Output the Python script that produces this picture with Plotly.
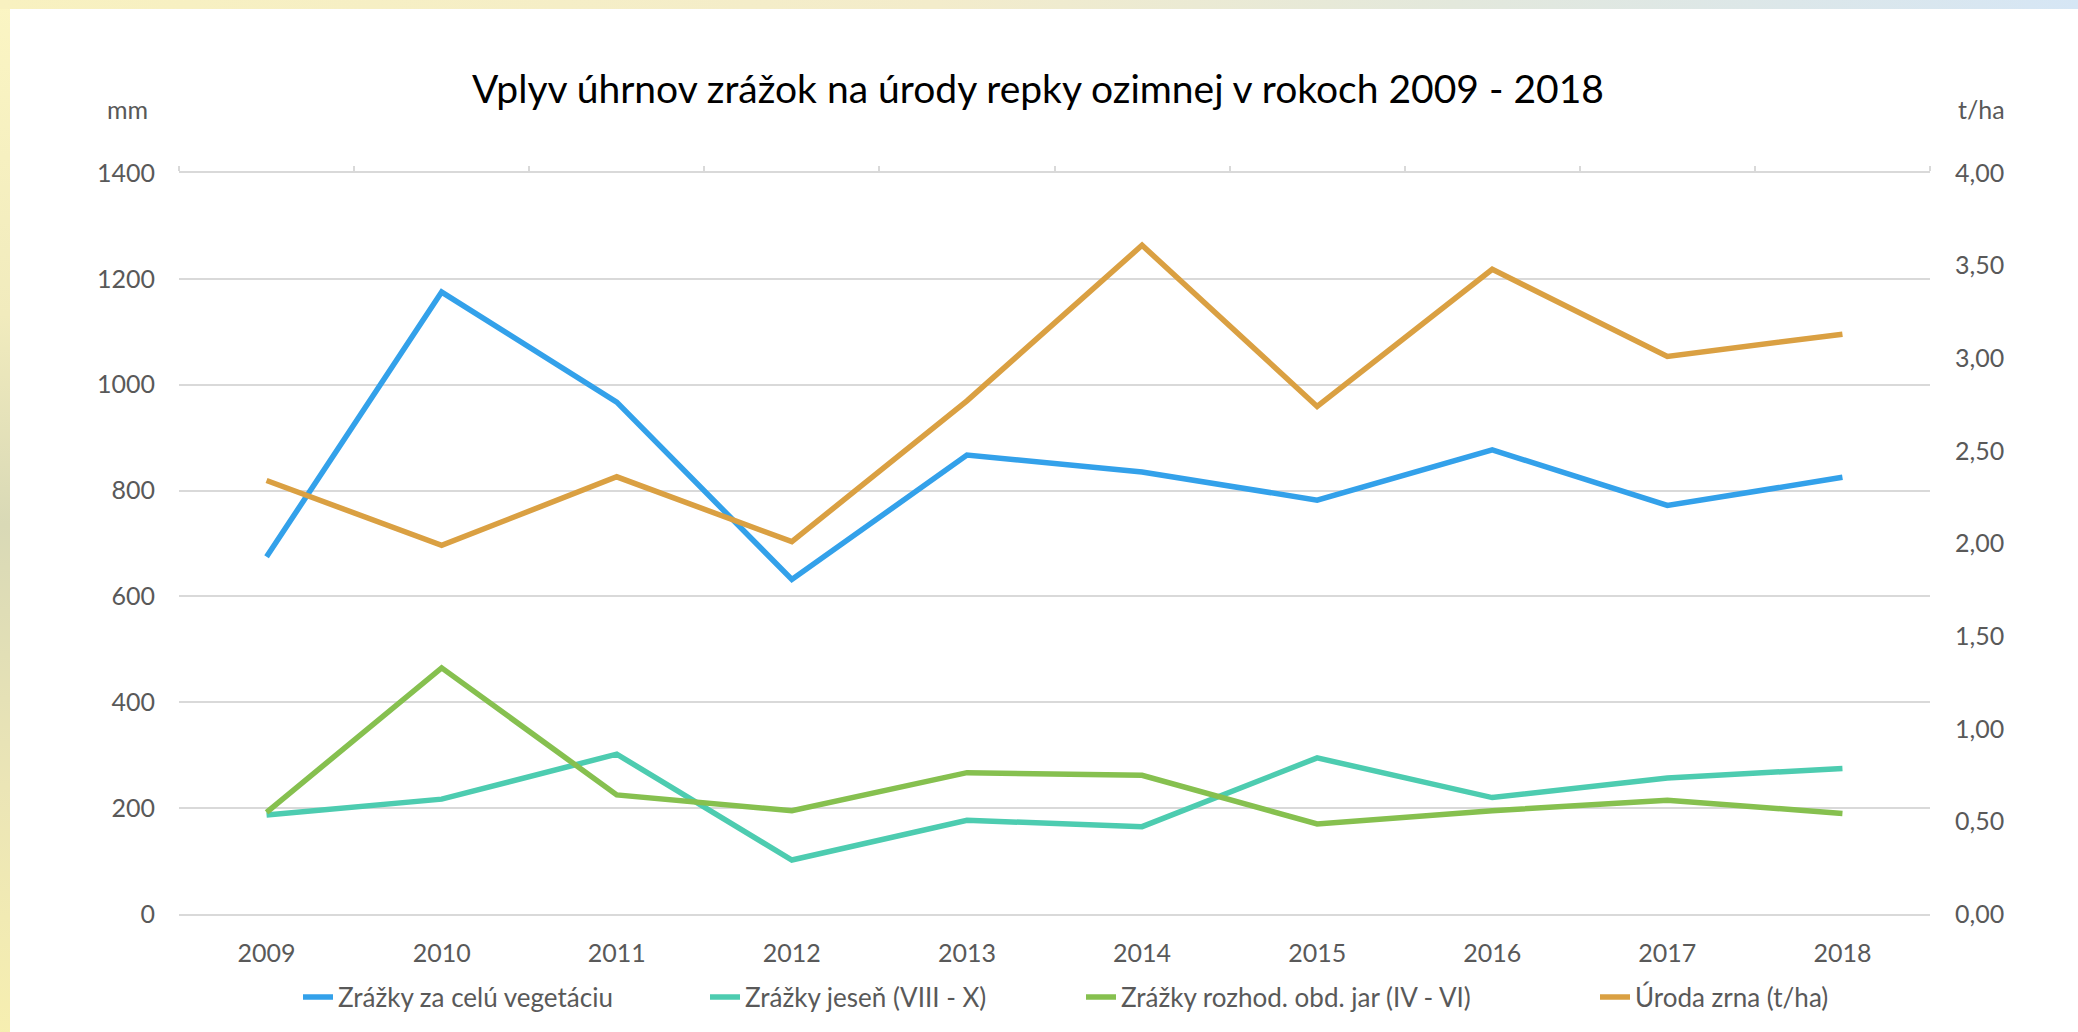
import plotly.graph_objects as go

years = ["2009", "2010", "2011", "2012", "2013", "2014", "2015", "2016", "2017", "2018"]
zrazky_celu = [675, 1175, 967, 632, 867, 835, 782, 877, 772, 825]
zrazky_jesen = [187, 217, 302, 102, 177, 165, 295, 220, 257, 275]
zrazky_jar = [192, 465, 225, 195, 267, 262, 170, 195, 215, 190]
uroda = [2.34, 1.99, 2.36, 2.01, 2.77, 3.61, 2.74, 3.48, 3.01, 3.13]

names = ["Zrážky za celú vegetáciu", "Zrážky jeseň (VIII - X)",
         "Zrážky rozhod. obd. jar (IV - VI)", "Úroda zrna (t/ha)"]
colors = ["#33a1ea", "#4dccb0", "#86c04f", "#daa042"]

W, H = 2078, 1032
OFF = 8  # default page margin of the html body
# plot area in page pixels
L, R, T, B = 179 - OFF, 1930 - OFF, 173 - OFF, 914 - OFF
pw, ph = R - L, B - T


def px(x):  # page pixel -> paper
    return (x - OFF - L) / pw


def py(y):
    return (B - (y - OFF)) / ph


FONT = "Lato"
GRAY = "#595959"
GRID = "#d9d9d9"

fig = go.Figure()
legends = ["legend", "legend2", "legend3", "legend4"]
for vals, name, col, lg in zip([zrazky_celu, zrazky_jesen, zrazky_jar], names[:3], colors[:3], legends):
    fig.add_trace(go.Scatter(x=years, y=vals, name=name, mode="lines",
                             line=dict(color=col, width=5.5), legend=lg))
fig.add_trace(go.Scatter(x=years, y=uroda, name=names[3], mode="lines",
                         line=dict(color=colors[3], width=5.5), yaxis="y2",
                         legend="legend4"))
# carrier for the top category-boundary axis
fig.add_trace(go.Scatter(x=[], y=[], xaxis="x2", yaxis="y", showlegend=False,
                         hoverinfo="skip"))

legend_text_starts = [338, 745, 1121]
leg_common = dict(orientation="h", xref="container",
                  yref="container", y=1 - (997 - OFF) / H, yanchor="middle",
                  font=dict(family=FONT, size=26, color=GRAY),
                  bgcolor="rgba(0,0,0,0)", borderwidth=0)
leg_layout = {}
for lg, ts in zip(legends[:3], legend_text_starts):
    leg_layout[lg] = dict(x=(ts - 40 - OFF) / W, xanchor="left", **leg_common)
# last entry anchored by its right end
leg_layout["legend4"] = dict(x=(1834 - OFF) / W, xanchor="right", **leg_common)

fig.update_layout(
    width=W, height=H,
    margin=dict(l=L, r=W - R, t=T, b=H - B, autoexpand=False),
    paper_bgcolor="rgba(0,0,0,0)",
    plot_bgcolor="rgba(0,0,0,0)",
    separators=", ",
    font=dict(family=FONT, color=GRAY, size=25),
    title=dict(text="Vplyv úhrnov zrážok na úrody repky ozimnej v rokoch 2009 - 2018",
               x=px(1038), xref="paper", xanchor="center",
               y=1 - (89 - OFF) / H, yanchor="middle",
               font=dict(family=FONT, size=39, color="#000000")),
    xaxis=dict(type="category", range=[-0.5, 9.5], showgrid=False, ticks="",
               showline=True, linecolor=GRID, linewidth=1.5, zeroline=False,
               ticklabelstandoff=16, tickfont=dict(size=25, color=GRAY)),
    xaxis2=dict(overlaying="x", anchor="y", side="top", range=[-0.5, 9.5],
                tickvals=[i - 0.5 for i in range(len(years) + 1)], ticks="outside",
                ticklen=5, tickcolor=GRID, tickwidth=1.5, showticklabels=False,
                showgrid=False, showline=True, linecolor=GRID, linewidth=1.5,
                zeroline=False),
    yaxis=dict(range=[0, 1400], dtick=200, showgrid=True, gridcolor=GRID,
               gridwidth=1.5, zeroline=False, showline=False, ticks="",
               ticklabelstandoff=23, tickfont=dict(size=25, color=GRAY)),
    yaxis2=dict(range=[0, 4], dtick=0.5, tickformat=".2f", overlaying="y",
                side="right", showgrid=False, zeroline=False, showline=False,
                ticks="", ticklabelstandoff=24, tickfont=dict(size=25, color=GRAY)),
    showlegend=True,
    **leg_layout,
)

# white chart area over the decorative background
fig.add_shape(type="rect", xref="paper", yref="paper", layer="below",
              x0=px(10), x1=px(W + 20), y0=py(H + 20), y1=py(9),
              fillcolor="#ffffff", line=dict(width=0))

fig.add_annotation(text="mm", xref="paper", yref="paper", x=px(127), y=py(109),
                   xanchor="center", yanchor="middle", showarrow=False,
                   font=dict(family=FONT, size=25, color=GRAY))
fig.add_annotation(text="t/ha", xref="paper", yref="paper", x=px(1981), y=py(109),
                   xanchor="center", yanchor="middle", showarrow=False,
                   font=dict(family=FONT, size=25, color=GRAY))

page_bg = (
    "document.body.style.background="
    "'linear-gradient(to right, #f8f1c0 0%, #f3eccb 45%, #e3e8dc 70%, #d6e6f5 100%) "
    "left top / 100% 9px no-repeat, "
    "linear-gradient(to bottom, #fbf5c3 0%, #f1ebbd 30%, #d9d9b6 50%, #ebe5b6 75%, #f7efb0 100%) "
    "left top / 10px 100% no-repeat, #ffffff';"
    "document.documentElement.style.minHeight='100%';"
    "document.body.style.overflow='hidden';"
)
fig.write_html("out.html", post_script=page_bg)
